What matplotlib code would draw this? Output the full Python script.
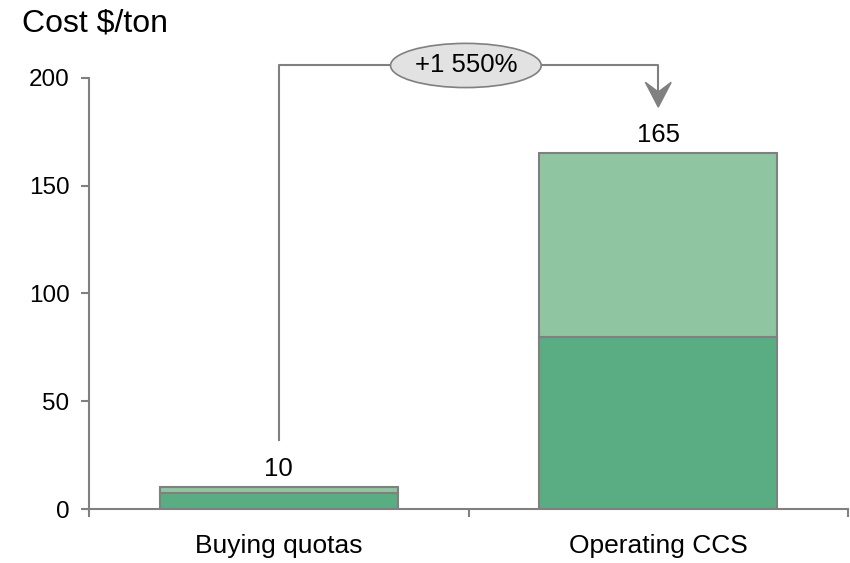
import matplotlib
matplotlib.use('Agg')
import matplotlib.pyplot as plt
from matplotlib.patches import Ellipse, Polygon

plt.rcParams['font.family'] = ['Liberation Sans', 'DejaVu Sans']

# cost per ton of CO2, split in two components
categories = ['Buying quotas', 'Operating CCS']
base_cost = [7.5, 80]
extra_cost = [2.5, 85]
totals = [b + e for b, e in zip(base_cost, extra_cost)]
change_label = '+1 550%'

dark_green = '#5aad82'
light_green = '#8fc6a1'
grey = '#808080'

fig = plt.figure(figsize=(8.5, 5.63), dpi=100)
ax = fig.add_axes([0.1047, 0.0959, 0.893, 0.7656])

x = range(len(categories))
ax.bar(x, base_cost, width=0.626, color=dark_green, edgecolor=grey, linewidth=1.5)
ax.bar(x, extra_cost, bottom=base_cost, width=0.626, color=light_green,
       edgecolor=grey, linewidth=1.5)

for i, t in enumerate(totals):
    ax.text(i, t + 5.5, f'{t:g}', ha='center', va='baseline', fontsize=18.5)

ax.set_xlim(-0.5, 1.5)
ax.set_ylim(0, 200)
ax.set_yticks([0, 50, 100, 150, 200])

# ticks sit between the categories, labels under the bars
ax.set_xticks([-0.5, 0.5, 1.5])
ax.set_xticklabels([])
ax.set_xticks([0, 1], minor=True)
ax.set_xticklabels(categories, minor=True, fontsize=19)
ax.tick_params(axis='x', which='major', length=6, width=1.5, color=grey)
ax.tick_params(axis='x', which='minor', length=0, pad=18)
ax.tick_params(axis='y', length=6, width=1.5, color=grey, labelsize=17.5, pad=8)

for side in ['top', 'right']:
    ax.spines[side].set_visible(False)
for side in ['left', 'bottom']:
    ax.spines[side].set_color(grey)
    ax.spines[side].set_linewidth(1.5)

fig.text(0.026, 0.958, 'Cost $/ton', fontsize=23, ha='left', va='center')

# connector from the first bar to the second one
top_y = 205.8
ax.plot([0, 0, 1, 1], [totals[0] + 22, top_y, top_y, 194],
        color=grey, linewidth=1.5, clip_on=False, zorder=3)
ax.add_patch(Polygon([(1, 186.5), (1 - 0.034, 198), (1, 193.5), (1 + 0.034, 198)],
                     closed=True, color=grey, clip_on=False, zorder=4))
ax.add_patch(Ellipse((0.493, top_y), 0.397, 20.5, facecolor='#e2e2e2',
                     edgecolor=grey, linewidth=1.2, clip_on=False, zorder=5))
ax.text(0.493, top_y, change_label, ha='center', va='center', fontsize=18.5, zorder=6)

fig.savefig('out.png', dpi=100)
